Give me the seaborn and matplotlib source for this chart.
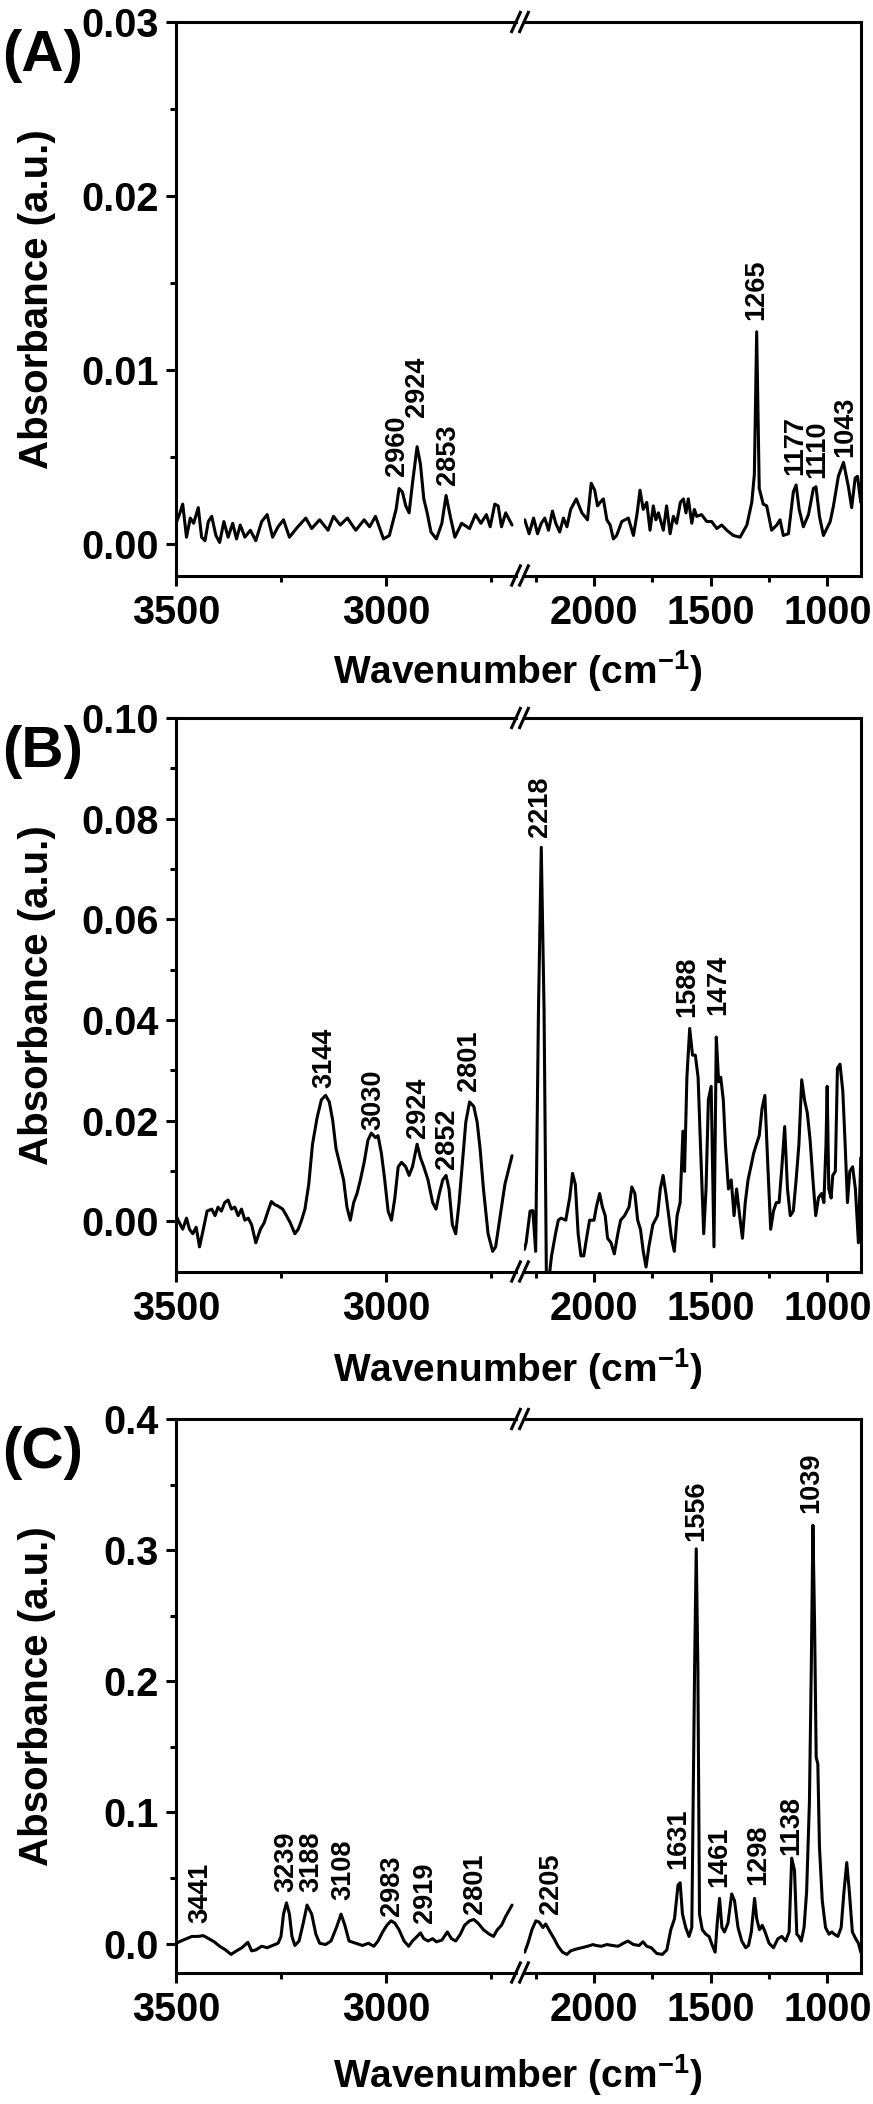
import matplotlib
matplotlib.use('Agg')
import matplotlib.pyplot as plt
import seaborn as sns
import pandas as pd
from matplotlib.lines import Line2D
from matplotlib.ticker import FormatStrFormatter

# --- spectra: (wavenumber cm-1, absorbance) ---

# (A) left of the axis break
A_left = [(3500, 0.0012), (3492, 0.0017), (3484, 0.0023), (3475, 0.0004), (3466, 0.0015),
          (3458, 0.0012), (3447, 0.0021), (3439, 0.0004), (3431, 0.0002), (3423, 0.0013),
          (3415, 0.0016), (3405, 0.0005), (3396, 0.0001), (3386, 0.0013), (3376, 0.0004),
          (3365, 0.0012), (3356, 0.0003), (3347, 0.0011), (3336, 0.0004), (3323, 0.0008),
          (3310, 0.0002), (3296, 0.0013), (3283, 0.0017), (3270, 0.0004), (3257, 0.0010),
          (3244, 0.0014), (3230, 0.0004), (3210, 0.0010), (3191, 0.0015), (3177, 0.0009),
          (3158, 0.0014), (3138, 0.0008), (3125, 0.0016), (3109, 0.0011), (3092, 0.0015),
          (3072, 0.0008), (3052, 0.0014), (3039, 0.0010), (3025, 0.0016), (3006, 0.0003),
          (2992, 0.0005), (2976, 0.0020), (2969, 0.0032), (2961, 0.0030), (2953, 0.0022),
          (2945, 0.0018), (2937, 0.0035), (2926, 0.0056), (2918, 0.0046), (2910, 0.0026),
          (2902, 0.0018), (2893, 0.0007), (2880, 0.0003), (2867, 0.0012), (2857, 0.0028),
          (2847, 0.0016), (2836, 0.0004), (2820, 0.0012), (2801, 0.0009), (2787, 0.0017),
          (2774, 0.0012), (2761, 0.0017), (2752, 0.0010), (2741, 0.0023), (2733, 0.0022),
          (2725, 0.0010), (2715, 0.0018), (2700, 0.0011)]

# (A) right of the axis break
A_right = [(2297, 0.0014), (2278, 0.0006), (2259, 0.0015), (2242, 0.0006), (2226, 0.0012),
           (2211, 0.0015), (2195, 0.0008), (2178, 0.0019), (2164, 0.0012), (2147, 0.0007),
           (2131, 0.0015), (2116, 0.0010), (2100, 0.0020), (2076, 0.0026), (2052, 0.0018),
           (2028, 0.0014), (2012, 0.0035), (1997, 0.0031), (1985, 0.0022), (1974, 0.0024),
           (1960, 0.0026), (1945, 0.0014), (1931, 0.0011), (1917, 0.0003), (1903, 0.0005),
           (1881, 0.0013), (1853, 0.0015), (1831, 0.0005), (1815, 0.0018), (1803, 0.0031),
           (1789, 0.0020), (1774, 0.0024), (1760, 0.0008), (1746, 0.0022), (1735, 0.0014),
           (1724, 0.0018), (1703, 0.0008), (1689, 0.0022), (1674, 0.0006), (1660, 0.0016),
           (1646, 0.0012), (1630, 0.0024), (1617, 0.0026), (1606, 0.0018), (1596, 0.0026),
           (1581, 0.0012), (1570, 0.0020), (1560, 0.0016), (1539, 0.0017), (1517, 0.0013),
           (1496, 0.0013), (1474, 0.0009), (1453, 0.0011), (1431, 0.0008), (1403, 0.0005),
           (1374, 0.0004), (1345, 0.0011), (1324, 0.0024), (1313, 0.0040), (1303, 0.0122),
           (1292, 0.0032), (1275, 0.0023), (1260, 0.0022), (1239, 0.0008), (1217, 0.0011),
           (1203, 0.0014), (1189, 0.0005), (1167, 0.0006), (1146, 0.0030), (1134, 0.0034),
           (1121, 0.0020), (1103, 0.0010), (1081, 0.0017), (1060, 0.0032), (1049, 0.0033),
           (1034, 0.0016), (1017, 0.0005), (988, 0.0013), (974, 0.0022), (953, 0.0039),
           (931, 0.0047), (910, 0.0033), (896, 0.0021), (881, 0.0038), (871, 0.0039),
           (857, 0.0024)]

B_left = [(3500, 0.0011), (3492, -0.0003), (3484, -0.0016), (3475, 0.0006), (3468, -0.0016),
          (3460, -0.0025), (3452, -0.0012), (3444, -0.0051), (3435, -0.0016), (3426, 0.0020),
          (3415, 0.0024), (3407, 0.0011), (3400, 0.0028), (3392, 0.0020), (3384, 0.0037),
          (3376, 0.0042), (3368, 0.0024), (3360, 0.0028), (3352, 0.0011), (3344, 0.0024),
          (3336, 0.0002), (3328, 0.0006), (3320, -0.0007), (3310, -0.0043), (3299, -0.0016),
          (3290, -0.0003), (3281, 0.0020), (3273, 0.0039), (3265, 0.0033), (3257, 0.0030),
          (3246, 0.0024), (3237, 0.0011), (3228, -0.0003), (3217, -0.0025), (3209, -0.0016),
          (3201, 0.0002), (3193, 0.0024), (3184, 0.0073), (3175, 0.0153), (3164, 0.0206),
          (3154, 0.0241), (3144, 0.0250), (3135, 0.0237), (3127, 0.0201), (3119, 0.0144),
          (3111, 0.0117), (3101, 0.0082), (3093, 0.0028), (3085, 0.0002), (3077, 0.0037),
          (3069, 0.0055), (3061, 0.0082), (3052, 0.0117), (3043, 0.0161), (3035, 0.0175),
          (3025, 0.0166), (3019, 0.0170), (3011, 0.0135), (3003, 0.0082), (2995, 0.0020),
          (2987, 0.0002), (2979, 0.0046), (2971, 0.0108), (2963, 0.0117), (2953, 0.0108),
          (2945, 0.0091), (2937, 0.0108), (2926, 0.0153), (2918, 0.0126), (2910, 0.0108),
          (2900, 0.0082), (2889, 0.0037), (2881, 0.0024), (2873, 0.0055), (2865, 0.0082),
          (2857, 0.0091), (2850, 0.0064), (2842, -0.0007), (2834, -0.0025), (2826, 0.0037),
          (2818, 0.0117), (2810, 0.0197), (2801, 0.0237), (2791, 0.0228), (2783, 0.0197),
          (2776, 0.0144), (2768, 0.0064), (2757, -0.0025), (2746, -0.0060), (2739, -0.0051),
          (2728, 0.0011), (2717, 0.0073), (2700, 0.0130)]

B_right = [(2298, -0.0056), (2291, -0.0043), (2274, 0.0020), (2262, 0.0021), (2250, -0.0060),
           (2238, 0.0419), (2226, 0.0743), (2214, 0.0419), (2204, -0.0115), (2194, -0.0118),
           (2182, -0.0069), (2165, -0.0025), (2153, 0.0002), (2141, 0.0006), (2121, 0.0002),
           (2104, 0.0047), (2092, 0.0095), (2080, 0.0073), (2068, -0.0025), (2056, -0.0069),
           (2044, -0.0069), (2032, -0.0034), (2019, 0.0002), (2000, 0.0002), (1990, 0.0028),
           (1976, 0.0055), (1964, 0.0028), (1952, 0.0011), (1942, -0.0034), (1927, -0.0043),
           (1913, -0.0065), (1898, -0.0025), (1886, 0.0002), (1869, 0.0011), (1850, 0.0028),
           (1838, 0.0068), (1825, 0.0055), (1813, 0.0002), (1801, -0.0016), (1789, -0.0060),
           (1777, -0.0091), (1765, -0.0051), (1748, -0.0007), (1728, 0.0011), (1716, 0.0064),
           (1704, 0.0091), (1692, 0.0055), (1680, 0.0011), (1668, -0.0034), (1656, -0.0060),
           (1644, 0.0011), (1631, 0.0037), (1619, 0.0179), (1612, 0.0099), (1602, 0.0286),
           (1590, 0.0383), (1578, 0.0330), (1566, 0.0330), (1554, 0.0286), (1544, 0.0153),
           (1530, -0.0025), (1520, 0.0064), (1510, 0.0241), (1498, 0.0268), (1486, -0.0051),
           (1476, 0.0366), (1466, 0.0277), (1457, 0.0286), (1446, 0.0241), (1437, 0.0153),
           (1424, 0.0064), (1412, 0.0082), (1400, 0.0011), (1389, 0.0064), (1376, 0.0011),
           (1364, -0.0034), (1352, 0.0037), (1340, 0.0082), (1328, 0.0108), (1316, 0.0135),
           (1304, 0.0153), (1292, 0.0170), (1280, 0.0224), (1268, 0.0250), (1255, 0.0108),
           (1243, -0.0016), (1231, 0.0020), (1219, 0.0037), (1207, 0.0037), (1195, 0.0108),
           (1183, 0.0188), (1171, 0.0064), (1159, 0.0011), (1146, 0.0020), (1134, 0.0082),
           (1122, 0.0153), (1110, 0.0281), (1098, 0.0241), (1086, 0.0215), (1074, 0.0161),
           (1062, 0.0082), (1050, 0.0011), (1038, 0.0047), (1025, 0.0055), (1015, 0.0037),
           (1006, 0.0153), (1001, 0.0268), (994, 0.0064), (984, 0.0046), (977, 0.0091),
           (966, 0.0099), (957, 0.0304), (946, 0.0312), (934, 0.0259), (924, 0.0153),
           (914, 0.0037), (904, 0.0099), (892, 0.0108), (880, 0.0064), (867, -0.0043),
           (857, 0.0126)]

C_left = [(3500, 0.0003), (3488, 0.0020), (3475, 0.0038), (3462, 0.0055), (3448, 0.0055),
          (3435, 0.0061), (3422, 0.0038), (3409, 0.0014), (3396, -0.0020), (3382, -0.0048),
          (3369, -0.0082), (3356, -0.0055), (3343, -0.0031), (3329, 0.0010), (3320, -0.0055),
          (3310, -0.0048), (3296, -0.0020), (3283, -0.0031), (3270, -0.0014), (3257, 0.0003),
          (3250, 0.0055), (3244, 0.0226), (3237, 0.0311), (3230, 0.0226), (3224, 0.0055),
          (3217, -0.0014), (3207, 0.0020), (3197, 0.0157), (3188, 0.0294), (3177, 0.0226),
          (3167, 0.0072), (3158, 0.0003), (3144, -0.0007), (3131, 0.0020), (3118, 0.0123),
          (3107, 0.0225), (3098, 0.0140), (3088, 0.0020), (3072, 0.0003), (3056, -0.0014),
          (3042, 0.0003), (3029, -0.0020), (3019, 0.0020), (3008, 0.0089), (2998, 0.0140),
          (2988, 0.0174), (2979, 0.0157), (2969, 0.0106), (2957, 0.0020), (2946, -0.0020),
          (2937, 0.0020), (2926, 0.0055), (2918, 0.0082), (2910, 0.0038), (2900, 0.0020),
          (2889, 0.0038), (2880, 0.0014), (2867, 0.0027), (2854, 0.0089), (2844, 0.0038),
          (2834, 0.0020), (2823, 0.0072), (2813, 0.0140), (2801, 0.0174), (2791, 0.0184),
          (2781, 0.0157), (2768, 0.0106), (2754, 0.0072), (2744, 0.0055), (2735, 0.0106),
          (2725, 0.0140), (2715, 0.0208), (2700, 0.0294)]

C_right = [(2297, -0.0065), (2283, 0.0003), (2266, 0.0106), (2249, 0.0174), (2235, 0.0164),
           (2219, 0.0123), (2207, 0.0150), (2188, 0.0089), (2171, 0.0038), (2154, -0.0020),
           (2135, -0.0065), (2116, -0.0082), (2100, -0.0055), (2076, -0.0041), (2052, -0.0031),
           (2028, -0.0020), (2004, -0.0007), (1992, -0.0014), (1969, -0.0020), (1945, -0.0007),
           (1921, -0.0014), (1897, -0.0020), (1874, 0.0003), (1855, 0.0020), (1831, -0.0007),
           (1807, -0.0014), (1790, 0.0014), (1774, -0.0020), (1755, -0.0031), (1731, -0.0075),
           (1707, -0.0082), (1688, -0.0048), (1671, 0.0106), (1655, 0.0191), (1640, 0.0447),
           (1631, 0.0464), (1621, 0.0225), (1607, 0.0123), (1593, 0.0055), (1581, 0.0123),
           (1569, 0.2104), (1562, 0.3010), (1555, 0.2104), (1548, 0.0225), (1536, 0.0106),
           (1521, 0.0072), (1507, 0.0055), (1493, -0.0014), (1481, -0.0065), (1472, 0.0157),
           (1462, 0.0345), (1452, 0.0123), (1441, 0.0089), (1426, 0.0157), (1410, 0.0379),
           (1398, 0.0328), (1383, 0.0123), (1367, 0.0020), (1350, -0.0031), (1338, -0.0014),
           (1326, 0.0089), (1312, 0.0345), (1303, 0.0191), (1291, 0.0106), (1279, 0.0140),
           (1267, 0.0089), (1250, 0.0003), (1231, -0.0031), (1212, 0.0038), (1195, 0.0055),
           (1179, 0.0020), (1164, 0.0089), (1153, 0.0652), (1141, 0.0560), (1131, 0.0072),
           (1122, 0.0055), (1112, 0.0020), (1100, 0.0123), (1089, 0.0396), (1077, 0.1079),
           (1069, 0.2104), (1062, 0.3190), (1055, 0.2446), (1048, 0.1421), (1041, 0.1370),
           (1034, 0.0738), (1022, 0.0328), (1008, 0.0123), (993, 0.0072), (981, 0.0089),
           (970, 0.0072), (955, 0.0055), (941, 0.0123), (929, 0.0396), (917, 0.0618),
           (906, 0.0396), (893, 0.0089), (879, 0.0038), (867, 0.0003), (857, -0.0065)]

# peak labels: (text, wavenumber, absorbance where the label starts)
A_peaks = [('2960', 2975, 0.0039), ('2924', 2926, 0.0073), ('2853', 2853, 0.0034),
           ('1265', 1303, 0.0129), ('1177', 1139, 0.0040), ('1110', 1045, 0.0038),
           ('1043', 925, 0.0050)]
B_peaks = [('3144', 3147, 0.0264), ('3030', 3029, 0.0181), ('2924', 2924, 0.0166),
           ('2852', 2854, 0.0104), ('2801', 2803, 0.0259), ('2218', 2232, 0.0763),
           ('1588', 1600, 0.0405), ('1474', 1468, 0.0410)]
C_peaks = [('3441', 3442, 0.0158), ('3239', 3237, 0.0397), ('3188', 3177, 0.0397),
           ('3108', 3102, 0.0329), ('2983', 2986, 0.0209), ('2919', 2906, 0.0158),
           ('2801', 2787, 0.0227), ('2205', 2183, 0.0227), ('1631', 1640, 0.0568),
           ('1556', 1564, 0.3068), ('1461', 1464, 0.0431), ('1298', 1298, 0.0448),
           ('1138', 1155, 0.0677), ('1039', 1069, 0.3284)]

A_yticks = [0.00, 0.01, 0.02, 0.03]
B_yticks = [0.00, 0.02, 0.04, 0.06, 0.08, 0.10]
C_yticks = [0.0, 0.1, 0.2, 0.3, 0.4]

# --- style ---
sns.set_style('ticks')
plt.rcParams['font.family'] = ['Liberation Sans', 'DejaVu Sans']
plt.rcParams['font.weight'] = 'bold'
plt.rcParams['mathtext.fontset'] = 'custom'
plt.rcParams['mathtext.rm'] = 'Liberation Sans:bold'
plt.rcParams['mathtext.bf'] = 'Liberation Sans:bold'
plt.rcParams['mathtext.it'] = 'Liberation Sans:bold'
for key in ['text.color', 'axes.edgecolor', 'axes.labelcolor', 'xtick.color', 'ytick.color']:
    plt.rcParams[key] = 'black'

W, H = 873, 2104
fig = plt.figure(figsize=(W / 100, H / 100), dpi=100)
fig.patch.set_facecolor('white')


def px_axes(x0, x1, top, bottom):
    return fig.add_axes([x0 / W, 1 - bottom / H, (x1 - x0) / W, (bottom - top) / H])


def fig_line(xs, ys):
    fig.add_artist(Line2D([x / W for x in xs], [1 - y / H for y in ys],
                          color='black', lw=2.2, solid_capstyle='butt'))


# letter, axes top (px), ylim, major yticks, minor step, label format, data, peaks, xlabel drop
panels = [
    ('(A)', 22, (-0.0018, 0.03), A_yticks, 0.005, '%.2f', A_left, A_right, A_peaks, 108),
    ('(B)', 718, (-0.0100, 0.10), B_yticks, 0.01, '%.2f', B_left, B_right, B_peaks, 110),
    ('(C)', 1419, (-0.022, 0.40), C_yticks, 0.05, '%.1f', C_left, C_right, C_peaks, 115),
]

X0, XB1, XB2, X1 = 176, 516, 524, 861
AX_H = 553.5

for letter, top, ylim, yticks, ystep, fmt, left, right, peaks, drop in panels:
    bottom = top + AX_H
    axL = px_axes(X0, XB1, top, bottom)
    axR = px_axes(XB2, X1, top, bottom)

    for ax, seg in ((axL, left), (axR, right)):
        df = pd.DataFrame(seg, columns=['wn', 'absorb'])
        sns.lineplot(data=df, x='wn', y='absorb', ax=ax, color='black', lw=2.2,
                     sort=False, estimator=None)
        ax.set_ylim(*ylim)
        ax.set_xlabel('')
        ax.set_ylabel('')
        for s in ax.spines.values():
            s.set_linewidth(2.2)
            s.set_color('black')
        ax.tick_params(which='both', direction='out', width=2.2, top=False, right=False,
                       labelsize=28.5, pad=5, colors='black')
        ax.tick_params(which='major', length=7.5)
        ax.tick_params(which='minor', length=4.5)
        ax.tick_params(axis='x', pad=6)

    axL.set_xlim(3500, 2690.5)
    axR.set_xlim(2300, 856)
    axL.set_xticks([3500, 3000])
    axL.set_xticks([3250, 2750], minor=True)
    axR.set_xticks([2000, 1500, 1000])
    axR.set_xticks([2250, 1750, 1250], minor=True)

    axL.set_yticks(yticks)
    minors = [v + ystep for v in yticks[:-1]]
    axL.set_yticks(minors, minor=True)
    axL.yaxis.set_major_formatter(FormatStrFormatter(fmt))
    axR.set_yticks(yticks)
    axR.tick_params(axis='y', which='both', left=False, labelleft=False)
    axL.spines['right'].set_visible(False)
    axR.spines['left'].set_visible(False)

    for txt, wn, yv in peaks:
        ax = axL if wn > 2500 else axR
        ax.text(wn, yv, txt, rotation=90, ha='center', va='bottom',
                fontsize=19.5, fontweight='bold', color='black')

    # axis break marks
    for yb in (top, bottom):
        for xc in (XB1, XB2):
            fig_line([xc - 5, xc + 5], [yb + 11, yb - 11])

    fig.text(2 / W, 1 - (top + 34) / H, letter, ha='left', va='center',
             fontsize=42, fontweight='bold')
    fig.text(37 / W, 1 - (top + AX_H / 2) / H, 'Absorbance (a.u.)', rotation=90,
             ha='center', va='center', fontsize=29, fontweight='bold')
    fig.text(518 / W, 1 - (bottom + drop) / H, 'Wavenumber (cm$^{-1}$)',
             ha='center', va='baseline', fontsize=28, fontweight='bold')

fig.savefig('out.png', dpi=100, facecolor='white')
